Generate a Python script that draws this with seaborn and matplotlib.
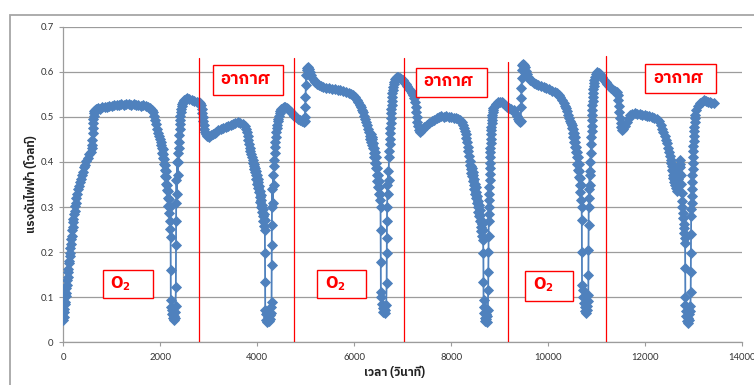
import numpy as np
import pandas as pd
import matplotlib
matplotlib.use("Agg")
import matplotlib.pyplot as plt
from matplotlib import font_manager
from matplotlib.ft2font import FT2Font
from matplotlib.patches import Rectangle
from matplotlib.ticker import FuncFormatter
import seaborn as sns

# ---------------------------------------------------------------------------
# Sensor voltage (V) against time (s), one list pair per gas period
# ---------------------------------------------------------------------------
t_o2_1 = [0, 8, 16, 24, 32, 40, 48, 56, 64, 72, 80, 88, 96, 104, 112, 120, 128, 136, 144, 152,
          160, 170, 180, 190, 200, 210, 220, 232, 244, 256, 270, 285, 300, 318, 336, 356, 378, 400, 425, 450,
          478, 506, 535, 565, 590,
          598, 602, 606, 610, 614, 618, 624, 632, 642, 655, 670, 690,
          720, 760, 800, 850, 900, 950, 1000, 1050, 1100, 1150, 1200, 1250, 1300, 1350, 1400, 1450, 1500,
          1550, 1600, 1650, 1700, 1750, 1790, 1820,
          1850, 1870, 1890, 1910, 1930, 1950, 1970, 1990, 2010, 2025,
          2032, 2040, 2048, 2056, 2064, 2072, 2080, 2088, 2096, 2104, 2112, 2120, 2128, 2136, 2144, 2152,
          2160, 2168, 2176, 2184, 2192, 2200, 2208,
          2214, 2216, 2218,
          2226, 2236, 2246, 2256, 2266, 2276, 2286, 2296, 2306, 2316,
          2322, 2324, 2326, 2328,
          2334, 2342, 2350, 2358, 2366, 2374, 2380, 2386, 2392, 2398, 2404, 2410, 2416, 2422, 2430, 2440,
          2452, 2470, 2495, 2525, 2560, 2600, 2650, 2700, 2750, 2800]
v_o2_1 = [0.050, 0.057, 0.067, 0.073, 0.084, 0.090, 0.102, 0.109, 0.121, 0.127, 0.138, 0.145, 0.156, 0.163,
          0.175, 0.181, 0.192, 0.199, 0.210, 0.217,
          0.229, 0.236, 0.248, 0.256, 0.267, 0.274, 0.285, 0.292, 0.303, 0.310, 0.321, 0.328, 0.339, 0.346,
          0.356, 0.362, 0.372, 0.378, 0.388, 0.394,
          0.403, 0.408, 0.417, 0.422, 0.430,
          0.438, 0.449, 0.464, 0.475, 0.486, 0.495, 0.503, 0.509, 0.513, 0.516, 0.517, 0.518,
          0.520, 0.518, 0.521, 0.523, 0.522, 0.525, 0.524, 0.526, 0.527, 0.526, 0.528, 0.527, 0.529, 0.528,
          0.527, 0.528, 0.527, 0.526, 0.525, 0.526, 0.524, 0.522, 0.520, 0.516,
          0.510, 0.502, 0.493, 0.484, 0.474, 0.465, 0.457, 0.450, 0.444, 0.437,
          0.432, 0.420, 0.428, 0.408, 0.418, 0.396, 0.406, 0.382, 0.394, 0.368, 0.380, 0.352, 0.366, 0.338,
          0.350, 0.320, 0.336, 0.302, 0.318, 0.286, 0.300, 0.270, 0.252,
          0.234, 0.160, 0.094,
          0.078, 0.062, 0.071, 0.055, 0.066, 0.050, 0.058, 0.068, 0.054, 0.080,
          0.123, 0.216, 0.27, 0.31,
          0.36, 0.33, 0.40, 0.37, 0.42, 0.40, 0.43, 0.445, 0.46, 0.472, 0.484, 0.494, 0.503, 0.511, 0.518,
          0.524, 0.529, 0.533, 0.537, 0.540, 0.541, 0.540, 0.538, 0.536, 0.534, 0.532]

t_air_1 = [2825, 2840, 2852, 2862, 2872, 2882, 2894, 2908, 2925, 2945, 2970, 3000,
           3040, 3080, 3120, 3160, 3200, 3250, 3300, 3350, 3400, 3450, 3500, 3550, 3600, 3650, 3700, 3740,
           3765, 3785, 3800, 3815, 3830, 3845, 3860, 3875, 3890, 3905, 3920,
           3928, 3936, 3944, 3952, 3960, 3968, 3976, 3984, 3992, 4000, 4008, 4016, 4024, 4032, 4040, 4048,
           4056, 4064, 4072, 4080, 4088, 4096, 4104, 4112, 4120, 4128, 4136, 4144, 4152, 4158,
           4161, 4163, 4165,
           4174, 4184, 4196, 4208, 4220, 4232, 4244, 4256, 4268, 4280, 4292,
           4296, 4298, 4300, 4302, 4305,
           4312, 4320, 4328, 4336, 4344, 4352, 4360, 4368, 4376, 4384, 4392, 4400, 4410, 4420, 4432, 4446,
           4462, 4480, 4500, 4525, 4550, 4580, 4610, 4640, 4670, 4700, 4730, 4760]
v_air_1 = [0.530, 0.526, 0.518, 0.509, 0.500, 0.491, 0.482, 0.474, 0.467, 0.462, 0.458, 0.456,
           0.459, 0.462, 0.465, 0.467, 0.470, 0.472, 0.475, 0.477, 0.480, 0.483, 0.485, 0.487, 0.488, 0.486,
           0.484, 0.480,
           0.474, 0.466, 0.458, 0.449, 0.440, 0.432, 0.424, 0.417, 0.410, 0.404, 0.398,
           0.392, 0.385, 0.395, 0.378, 0.386, 0.370, 0.380, 0.362, 0.372, 0.352, 0.362, 0.343, 0.355, 0.334,
           0.346, 0.322, 0.336, 0.312, 0.326, 0.300, 0.315, 0.290, 0.305, 0.280, 0.295, 0.268, 0.284, 0.258,
           0.272, 0.250,
           0.197, 0.134, 0.072,
           0.062, 0.050, 0.066, 0.045, 0.057, 0.070, 0.048, 0.060, 0.052, 0.066, 0.078,
           0.090, 0.171, 0.216, 0.26, 0.30,
           0.34, 0.31, 0.37, 0.35, 0.39, 0.405, 0.42, 0.433, 0.445, 0.456, 0.466, 0.475, 0.483, 0.490, 0.496,
           0.502, 0.508, 0.513, 0.517, 0.520, 0.522, 0.522, 0.520, 0.517, 0.514, 0.510, 0.506, 0.503]

t_o2_2 = [4800, 4840, 4880, 4920, 4955, 4978,
          4984, 4990, 4996, 5002, 5010, 5020, 5035, 5050, 5068, 5090,
          5115, 5140, 5165, 5195, 5230, 5270, 5315, 5365, 5420, 5480, 5540, 5600, 5660, 5710, 5770, 5830,
          5890, 5940, 5985, 6020, 6055, 6085, 6112, 6136, 6158, 6178, 6198, 6218, 6238, 6261, 6280, 6300, 6320,
          6336, 6344, 6352, 6360, 6368, 6376, 6384, 6392, 6400, 6408, 6416, 6424, 6432, 6440, 6448, 6456,
          6464, 6472, 6480, 6488, 6496, 6504, 6512, 6520, 6528, 6536, 6544,
          6547, 6549, 6551,
          6562, 6576, 6590, 6604, 6618, 6632, 6646, 6660,
          6670, 6672, 6674, 6676, 6679,
          6686, 6694, 6702, 6710, 6718, 6724, 6730, 6736, 6742, 6747, 6752, 6757, 6762, 6767, 6772, 6777,
          6782, 6788, 6795, 6803, 6812, 6825, 6840, 6858, 6880, 6910, 6940, 6970, 7000, 7025]
v_o2_2 = [0.499, 0.496, 0.493, 0.490, 0.489, 0.491,
          0.500, 0.523, 0.545, 0.571, 0.592, 0.604, 0.609, 0.610, 0.606, 0.599,
          0.592, 0.586, 0.581, 0.577, 0.573, 0.570, 0.568, 0.566, 0.565, 0.564, 0.562, 0.561, 0.560, 0.559,
          0.557, 0.555, 0.553, 0.551, 0.548, 0.544, 0.538, 0.532, 0.526, 0.521, 0.516, 0.510, 0.503, 0.496,
          0.489, 0.482, 0.474, 0.466, 0.458,
          0.452, 0.462, 0.445, 0.456, 0.438, 0.450, 0.430, 0.442, 0.420, 0.432, 0.410, 0.422, 0.398, 0.410,
          0.386, 0.398, 0.372, 0.386, 0.358, 0.372, 0.344, 0.358, 0.330, 0.344, 0.316, 0.328, 0.300,
          0.249, 0.179, 0.112,
          0.100, 0.086, 0.076, 0.068, 0.074, 0.065, 0.072, 0.082,
          0.131, 0.197, 0.231, 0.27, 0.30,
          0.35, 0.33, 0.38, 0.36, 0.41, 0.425, 0.44, 0.452, 0.464, 0.476, 0.487, 0.498, 0.508, 0.518, 0.527,
          0.536, 0.544, 0.552, 0.559, 0.566, 0.572, 0.578, 0.583, 0.587, 0.589, 0.589, 0.587, 0.584, 0.581,
          0.578]

t_air_2 = [7060, 7095, 7130, 7165, 7200, 7223, 7240, 7254, 7266, 7278, 7290, 7303, 7318, 7336, 7361,
           7400, 7450, 7500, 7550, 7600, 7650, 7700, 7750, 7800, 7850, 7900, 7950, 8000, 8050, 8100, 8150,
           8187, 8215, 8240, 8262, 8282, 8300, 8316, 8330, 8343, 8356, 8368, 8380, 8393,
           8402, 8410, 8418, 8426, 8434, 8442, 8450, 8458, 8466, 8474, 8482, 8490, 8498, 8506, 8514, 8522,
           8530, 8538, 8546, 8554, 8562, 8570, 8578, 8586, 8594, 8602, 8610, 8618, 8626, 8634, 8642, 8650,
           8658,
           8665, 8667, 8669,
           8678, 8688, 8698, 8708, 8718, 8728, 8738, 8748, 8758,
           8764, 8767, 8770, 8773, 8776,
           8779, 8782, 8785, 8788, 8791, 8794, 8797, 8800, 8803, 8806, 8809, 8812, 8815, 8818, 8822, 8826,
           8830, 8834, 8839, 8844, 8850, 8856, 8864, 8874, 8900, 8930, 8965, 9000, 9040, 9080, 9120, 9160]
v_air_2 = [0.574, 0.568, 0.562, 0.557, 0.552, 0.549, 0.542, 0.532, 0.521, 0.510, 0.499, 0.489, 0.479,
           0.471, 0.467,
           0.471, 0.477, 0.482, 0.486, 0.490, 0.494, 0.497, 0.499, 0.501, 0.500, 0.501, 0.500, 0.499, 0.498,
           0.497, 0.495, 0.493, 0.488, 0.482, 0.476, 0.469, 0.462, 0.453, 0.444, 0.434, 0.424, 0.413, 0.403,
           0.393,
           0.385, 0.392, 0.376, 0.386, 0.368, 0.378, 0.358, 0.370, 0.350, 0.362, 0.340, 0.352, 0.330, 0.344,
           0.320, 0.334, 0.310, 0.324, 0.300, 0.314, 0.290, 0.304, 0.280, 0.294, 0.268, 0.282, 0.256, 0.272,
           0.246, 0.262, 0.236, 0.250, 0.228,
           0.197, 0.134, 0.094,
           0.078, 0.064, 0.055, 0.048, 0.062, 0.052, 0.046, 0.058, 0.072,
           0.116, 0.157, 0.20, 0.235, 0.27,
           0.285, 0.30, 0.315, 0.33, 0.345, 0.36, 0.373, 0.386, 0.398, 0.41, 0.421, 0.432, 0.442, 0.452,
           0.461, 0.47, 0.478, 0.486, 0.493, 0.499, 0.505, 0.510, 0.515, 0.519, 0.525, 0.529, 0.532, 0.534,
           0.533, 0.530, 0.527, 0.523]

t_o2_3 = [9200, 9240, 9287, 9320, 9350, 9380, 9405, 9425, 9436,
          9441, 9446, 9451, 9456, 9462, 9470, 9480, 9495, 9515, 9540, 9565, 9595, 9631,
          9670, 9710, 9750, 9800, 9850, 9906, 9960, 10020, 10080, 10140, 10182, 10220, 10255, 10290, 10320,
          10350, 10375, 10398, 10420, 10440, 10460, 10477, 10492,
          10500, 10508, 10516, 10524, 10532, 10540, 10548, 10556, 10564, 10572, 10580, 10588, 10596, 10604,
          10612, 10620, 10628, 10636, 10644, 10652, 10660, 10668, 10676, 10684, 10692,
          10696, 10698, 10700,
          10712, 10726, 10740, 10754, 10768, 10782, 10796, 10810, 10822,
          10829, 10831, 10833, 10835, 10838,
          10844, 10850, 10856, 10862, 10868, 10874, 10880, 10886, 10891, 10896, 10900, 10904, 10908, 10912,
          10916, 10920, 10924, 10928, 10932, 10938, 10945, 10955, 10967, 10985, 11008, 11040, 11075, 11110,
          11150, 11185]
v_o2_3 = [0.519, 0.517, 0.515, 0.509, 0.502, 0.496, 0.491, 0.489, 0.490,
          0.523, 0.541, 0.563, 0.586, 0.604, 0.614, 0.618, 0.616, 0.610, 0.602, 0.595, 0.588, 0.582,
          0.579, 0.576, 0.573, 0.571, 0.569, 0.567, 0.564, 0.561, 0.558, 0.555, 0.552, 0.548, 0.543, 0.537,
          0.531, 0.525, 0.519, 0.512, 0.505, 0.498, 0.491, 0.486, 0.482,
          0.475, 0.465, 0.472, 0.455, 0.464, 0.445, 0.455, 0.434, 0.445, 0.422, 0.434, 0.410, 0.422, 0.396,
          0.410, 0.382, 0.396, 0.366, 0.380, 0.350, 0.364, 0.334, 0.348, 0.316, 0.300,
          0.271, 0.201, 0.127,
          0.115, 0.100, 0.088, 0.078, 0.070, 0.065, 0.072, 0.080, 0.092,
          0.105, 0.149, 0.205, 0.26, 0.30,
          0.34, 0.32, 0.37, 0.35, 0.40, 0.38, 0.42, 0.44, 0.455, 0.468, 0.48, 0.492, 0.504, 0.515, 0.526,
          0.536, 0.545, 0.553, 0.561, 0.568, 0.575, 0.582, 0.589, 0.595, 0.599, 0.598, 0.594, 0.588, 0.582,
          0.577]

t_air_3 = [11220, 11260, 11300, 11340, 11380, 11420, 11436, 11448, 11460, 11472, 11484, 11497, 11510, 11523,
           11555, 11590, 11625, 11660, 11695, 11740, 11790, 11840, 11890, 11940, 11990, 12040, 12090, 12140,
           12190, 12246, 12285, 12320, 12350, 12378, 12404, 12428, 12452, 12474, 12494, 12512, 12528, 12542,
           12555,
           12563, 12571, 12579, 12587, 12595, 12603, 12611, 12619, 12627, 12635, 12643, 12651, 12659, 12667,
           12675, 12683, 12691, 12699, 12707, 12715, 12723, 12731, 12739, 12747, 12755, 12763, 12771, 12779,
           12787, 12795, 12803, 12811, 12819,
           12826, 12828, 12830, 12832,
           12842, 12854, 12866, 12878, 12890, 12902, 12914, 12926, 12936,
           12942, 12944, 12946, 12948, 12951,
           12955, 12959, 12963, 12967, 12971, 12975, 12979, 12983, 12987, 12991, 12995, 13000, 13005, 13010,
           13016, 13022, 13029, 13036, 13060, 13090, 13130, 13170, 13208, 13250, 13290, 13330, 13370, 13414]
v_air_3 = [0.573, 0.568, 0.564, 0.560, 0.558, 0.556, 0.548, 0.537, 0.524, 0.511, 0.498, 0.487, 0.477, 0.471,
           0.474, 0.480, 0.488, 0.497, 0.504, 0.507, 0.508, 0.507, 0.506, 0.505, 0.504, 0.503, 0.501, 0.500,
           0.498, 0.496, 0.490, 0.482, 0.474, 0.466, 0.457, 0.449, 0.441, 0.432, 0.423, 0.414, 0.405, 0.397,
           0.390,
           0.382, 0.372, 0.380, 0.364, 0.372, 0.356, 0.366, 0.348, 0.360, 0.342, 0.354, 0.336, 0.350, 0.344,
           0.362, 0.356, 0.376, 0.372, 0.392, 0.388, 0.404, 0.396, 0.372, 0.352, 0.332, 0.314, 0.300, 0.286,
           0.276, 0.262, 0.254, 0.242, 0.232,
           0.22, 0.164, 0.101, 0.082,
           0.070, 0.058, 0.048, 0.055, 0.042, 0.050, 0.062, 0.070, 0.080,
           0.112, 0.157, 0.197, 0.24, 0.28,
           0.295, 0.31, 0.325, 0.34, 0.355, 0.37, 0.384, 0.398, 0.411, 0.424, 0.436, 0.447, 0.458, 0.468,
           0.478, 0.488, 0.497, 0.505, 0.515, 0.524, 0.530, 0.534, 0.537, 0.536, 0.534, 0.532, 0.531, 0.530]

# Gas switching instants (s) and the height of each marker line (V)
switch_times = [2806, 4767, 7031, 9163, 11193]
switch_tops = [0.630, 0.630, 0.630, 0.622, 0.635]

# Period labels: text, text anchor (t, V) and box extent (t0, t1, v0, v1)
air_label = "อากาศ"
o2_label = r"$\mathbf{O_2}$"
air_boxes = [(3083, 4540, 0.5485, 0.6144), (7279, 8750, 0.5448, 0.6090), (12005, 13455, 0.5530, 0.6166)]
air_text_pos = [(3234, 0.5818), (7429, 0.5790), (12163, 0.5850)]
o2_boxes = [(813, 1857, 0.0989, 0.1604), (5229, 6241, 0.0983, 0.1604), (9528, 10513, 0.0916, 0.1581)]
o2_text_pos = [(964, 0.131), (5401, 0.131), (9679, 0.127)]

x_label = "เวลา (วินาที)"
y_label = "แรงดันไฟฟ้า (โวลท์)"
x_ticks = [0, 2000, 4000, 6000, 8000, 10000, 12000, 14000]
y_ticks = [0, 0.1, 0.2, 0.3, 0.4, 0.5, 0.6, 0.7]

segments = [(t_o2_1, v_o2_1), (t_air_1, v_air_1), (t_o2_2, v_o2_2),
            (t_air_2, v_air_2), (t_o2_3, v_o2_3), (t_air_3, v_air_3)]
for ts, vs in segments:
    assert len(ts) == len(vs), (len(ts), len(vs))

df = pd.DataFrame({
    "time": np.concatenate([np.asarray(ts, float) for ts, _ in segments]),
    "voltage": np.concatenate([np.asarray(vs, float) for _, vs in segments]),
})


def thai_family():
    """Pick an installed family with Thai glyphs, preferring one that has a bold face."""
    plain, bold = [], []
    for f in font_manager.fontManager.ttflist:
        try:
            if not FT2Font(f.fname).get_char_index(ord("อ")):
                continue
        except Exception:
            continue
        w = f.weight if isinstance(f.weight, int) else 400
        (bold if w >= 600 else plain).append(f.name)
    for name in bold:
        if "Thai" in name and "Looped" not in name:
            return name
    if bold:
        return bold[0]
    return plain[0] if plain else "DejaVu Sans"


thai_font = thai_family()

sns.set_style("white")
plt.rcParams["font.family"] = ["Lato", "DejaVu Sans"]

BLUE = "#4F81BD"
GRID = "#9c9c9c"
RED = "#ff0000"

fig = plt.figure(figsize=(7.54, 3.85), dpi=100)
ax = fig.add_axes([63.3 / 754, 1 - 342.3 / 385, (742 - 63.3) / 754, (342.3 - 26.7) / 385])

# Chart-area frame
fig.add_artist(Rectangle((10 / 754, -0.2), 1.2, 1.2 - 15 / 385, transform=fig.transFigure,
                         fill=False, edgecolor="#a6a6a6", linewidth=1.3, clip_on=False))

ax.set_xlim(0, 14000)
ax.set_ylim(0, 0.7)
ax.set_xticks(x_ticks)
ax.set_yticks(y_ticks)
ax.yaxis.set_major_formatter(FuncFormatter(lambda v, _: f"{v:g}"))
ax.xaxis.set_major_formatter(FuncFormatter(lambda v, _: f"{v:g}"))
ax.grid(axis="y", color=GRID, linewidth=0.9)
ax.grid(axis="x", visible=False)
ax.set_axisbelow(True)
for side in ("top", "right"):
    ax.spines[side].set_visible(False)
for side in ("left", "bottom"):
    ax.spines[side].set_color(GRID)
    ax.spines[side].set_linewidth(0.9)
ax.tick_params(axis="both", direction="out", length=3, width=0.8, color=GRID,
               labelsize=6.8, labelcolor="#333333")
ax.tick_params(axis="y", pad=4)
ax.tick_params(axis="x", pad=5)
ax.tick_params(left=True, bottom=True)

sns.lineplot(data=df, x="time", y="voltage", ax=ax, sort=False, estimator=None,
             color=BLUE, linewidth=1.3, marker="D", markersize=5.0,
             markeredgewidth=0.6, markeredgecolor=BLUE, zorder=3)
ax.set_xlabel("")
ax.set_ylabel("")

for t, top in zip(switch_times, switch_tops):
    ax.plot([t, t], [0, top], color=RED, linewidth=0.9, zorder=4)

for (t0, t1, v0, v1), (tx, vy) in zip(air_boxes, air_text_pos):
    ax.add_patch(Rectangle((t0, v0), t1 - t0, v1 - v0, facecolor="white",
                           edgecolor=RED, linewidth=1.0, zorder=5))
    ax.text(tx, vy, air_label, color=RED, fontsize=12, fontweight="bold",
            family=[thai_font, "DejaVu Sans"], ha="left", va="center", zorder=6)

for (t0, t1, v0, v1), (tx, vy) in zip(o2_boxes, o2_text_pos):
    ax.add_patch(Rectangle((t0, v0), t1 - t0, v1 - v0, facecolor="white",
                           edgecolor=RED, linewidth=1.0, zorder=5))
    ax.text(tx, vy, o2_label, color=RED, fontsize=10.5,
            ha="left", va="center", zorder=6)

fig.text(395 / 754, 1 - 372.5 / 385, x_label, ha="center", va="center", fontsize=8.5,
         fontweight="bold", family=[thai_font, "DejaVu Sans"], color="#222222")
fig.text(31 / 754, 1 - 184 / 385, y_label, ha="center", va="center", rotation=90, fontsize=8.5,
         fontweight="bold", family=[thai_font, "DejaVu Sans"], color="#222222")

fig.savefig("out.png", dpi=100, facecolor="white")
